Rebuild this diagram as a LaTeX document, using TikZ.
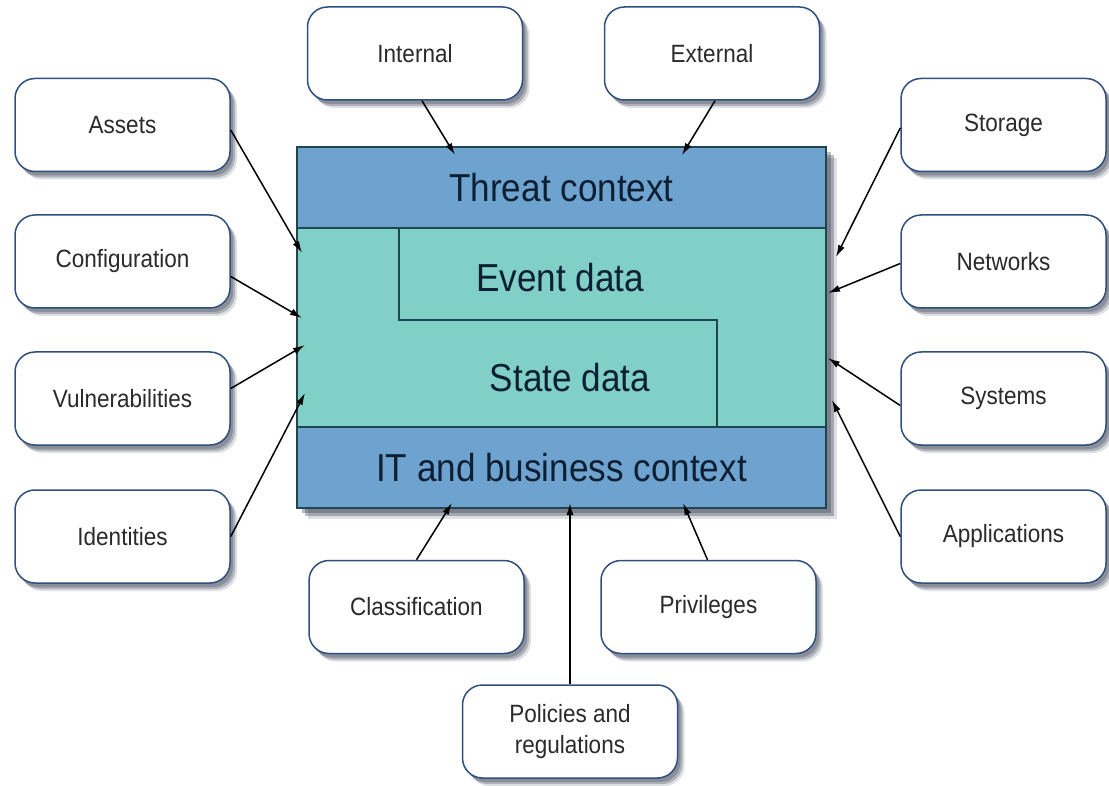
\documentclass[tikz,border=0pt]{standalone}
\usepackage{fontspec}
\setmainfont{Liberation Sans}[FakeStretch=0.9]
\definecolor{BandBlue}{RGB}{111,163,207}
\definecolor{CoreTeal}{RGB}{128,208,200}
\definecolor{FrameDark}{RGB}{30,70,80}
\definecolor{BoxNavy}{RGB}{47,79,127}
\definecolor{InkDark}{RGB}{13,31,51}
\definecolor{InkGrey}{RGB}{42,42,42}
\definecolor{ShadeDark}{RGB}{30,38,60}
\usepackage{tikz}
\usetikzlibrary{arrows.meta, shadows, positioning, calc}

\begin{document}
\begin{tikzpicture}[x=1pt,y=-1pt,
    soft/.style={drop shadow={shadow xshift=3pt, shadow yshift=-4pt, fill=ShadeDark, opacity=0.25},
        drop shadow={shadow xshift=5pt, shadow yshift=-6pt, fill=ShadeDark, opacity=0.25},
        drop shadow={shadow xshift=7pt, shadow yshift=-8pt, fill=ShadeDark, opacity=0.15}},
    source/.style={draw=BoxNavy, line width=1.5pt, fill=white, rounded corners=20pt,
        minimum width=215pt, minimum height=93pt, text=InkGrey, align=center,
        font=\fontsize{25}{31}\selectfont, soft},
    band/.style={draw=FrameDark, line width=1.5pt, fill=BandBlue, minimum width=529pt,
        minimum height=81pt, text=InkDark, font=\fontsize{39}{44}\selectfont},
    label/.style={text=InkDark, font=\fontsize{39}{44}\selectfont},
    feed/.style={-{Latex[length=12pt,width=7pt]}, line width=1.5pt, black}]

    \useasboundingbox (0,0) rectangle (1109,786);

    % central box
    \node[draw=FrameDark, line width=1.5pt, fill=CoreTeal, minimum width=529pt, minimum height=361pt,
        drop shadow={shadow xshift=5pt, shadow yshift=-5pt, fill=ShadeDark, opacity=0.3},
        drop shadow={shadow xshift=8pt, shadow yshift=-8pt, fill=ShadeDark, opacity=0.3},
        drop shadow={shadow xshift=11pt, shadow yshift=-11pt, fill=ShadeDark, opacity=0.15}]
        (frame) at (561.5,327.5) {};
    \node[band, anchor=north] (threat) at (frame.north) {Threat context};
    \node[band, anchor=south] (itctx) at (frame.south) {IT and business context};
    \node[label] (event) at (560,278) {Event data};
    \node[label] (state) at (570,378) {State data};
    \draw[FrameDark, line width=1.5pt] (399,228) -- (399,320) -- (717,320) -- (717,427);

    % left column
    \node[source] (assets) at (122.5,125) {Assets};
    \node[source] (config) at (122.5,261.5) {Configuration};
    \node[source] (vuln) at (122.5,398.5) {Vulnerabilities};
    \node[source] (ident) at (122.5,536.5) {Identities};

    % right column
    \node[source, minimum width=205pt] (storage) at (1003.5,125) {Storage};
    \node[source, minimum width=205pt] (networks) at (1003.5,261.5) {Networks};
    \node[source, minimum width=205pt] (systems) at (1003.5,398.5) {Systems};
    \node[source, minimum width=205pt] (apps) at (1003.5,536.5) {Applications};

    % top and bottom
    \node[source] (internal) at (415,53.5) {Internal};
    \node[source] (external) at (712,53.5) {External};
    \node[source] (classif) at (416.5,607) {Classification};
    \node[source] (privs) at (708.5,607) {Privileges};
    \node[source] (policies) at (570,731.5) {Policies and\\regulations};

    % arrow ends inside the box
    \coordinate (tInternal) at (455,155);
    \coordinate (tExternal) at (682,155);
    \coordinate (tAssets) at (302,253);
    \coordinate (tConfig) at (302,318);
    \coordinate (tVuln) at (305,345);
    \coordinate (tIdent) at (305,393);
    \coordinate (tStorage) at (836,257);
    \coordinate (tNetworks) at (828,293);
    \coordinate (tSystems) at (828,358);
    \coordinate (tApps) at (832,400);
    \coordinate (tClassif) at (452,503);
    \coordinate (tPrivs) at (683,503);
    \coordinate (tPolicies) at (570,503);

    % arrows
    \draw[feed] ([xshift=7pt]internal.south) -- (tInternal);
    \draw[feed] ([xshift=3pt]external.south) -- (tExternal);
    \draw[feed] ([yshift=-5pt]assets.east) -- (tAssets);
    \draw[feed] ([yshift=-15pt]config.east) -- (tConfig);
    \draw[feed] ([yshift=10pt]vuln.east) -- (tVuln);
    \draw[feed] (ident.east) -- (tIdent);
    \draw[feed] ([yshift=-3pt]storage.west) -- (tStorage);
    \draw[feed] ([yshift=-2pt]networks.west) -- (tNetworks);
    \draw[feed] ([yshift=-7pt]systems.west) -- (tSystems);
    \draw[feed] (apps.west) -- (tApps);
    \draw[feed] (classif.north) -- (tClassif);
    \draw[feed] ([xshift=-1pt]privs.north) -- (tPrivs);
    \draw[feed] (policies.north) -- (tPolicies);

\end{tikzpicture}
\end{document}
